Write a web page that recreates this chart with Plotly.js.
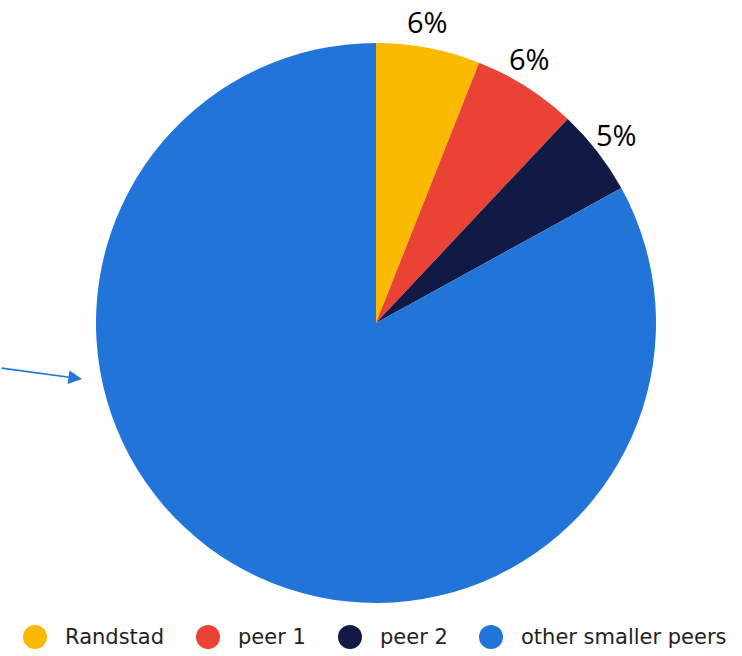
<!DOCTYPE html>
<html>
<head>
<meta charset="utf-8">
<script src="https://cdn.plot.ly/plotly-3.0.1.min.js"></script>
<style>
  html, body { margin: 0; padding: 0; background: #ffffff; }
  #chart { width: 742px; height: 656px; }
</style>
</head>
<body>
<div id="chart"></div>
<script>
// Market share split between Randstad, its two nearest peers and the rest
const labels = ["Randstad", "peer 1", "peer 2", "other smaller peers"];
const shares = [6, 6, 5, 83];
const colors = ["#FBBA00", "#EA4335", "#111A45", "#2175D9"];

// Geometry (px): pie centre and radius, value-label ring
const W = 742, H = 656;
const CX = 376, CY = 323, R = 280;
const LABEL_R = 306;
const labelNudgeDeg = [-1.2, -2.2, -0.3];

// Horizontal positions (px) of each legend swatch
const legendX = [35, 208, 350, 491];
const legendY = 637;

const pie = {
  type: "pie",
  labels: labels,
  values: shares,
  marker: { colors: colors, line: { width: 0 } },
  sort: false,
  direction: "clockwise",
  rotation: 0,
  textinfo: "none",
  hoverinfo: "label+percent",
  showlegend: false,
  domain: { x: [(CX - (W - CX)) / W, 1], y: [(H - CY - R) / H, (H - CY + R) / H] }
};

const shapes = [];
const annotations = [];

// Value labels outside the three small slices, placed along each slice's mid-angle
const total = shares.reduce((a, b) => a + b, 0);
let cum = 0;
shares.forEach((v, i) => {
  const mid = (cum + v / 2) / total * 360;
  cum += v;
  if (i >= 3) return;
  const a = (mid + labelNudgeDeg[i]) * Math.PI / 180;
  const px = CX + LABEL_R * Math.sin(a);
  const py = CY - LABEL_R * Math.cos(a);
  annotations.push({
    xref: "paper", yref: "paper",
    x: px / W, y: (H - py) / H,
    xanchor: "center", yanchor: "middle",
    text: v + "%", showarrow: false,
    font: { family: "Open Sans, Noto Sans, sans-serif", size: 29, color: "#000000" }
  });
});

labels.forEach((name, i) => {
  const cx = legendX[i];
  shapes.push({
    type: "circle", xref: "paper", yref: "paper",
    x0: (cx - 12) / W, x1: (cx + 12) / W,
    y0: (H - legendY - 12) / H, y1: (H - legendY + 12) / H,
    fillcolor: colors[i], line: { width: 0 }
  });
  annotations.push({
    xref: "paper", yref: "paper",
    x: (cx + 28) / W, y: (H - legendY) / H,
    xanchor: "left", yanchor: "middle",
    text: name, showarrow: false,
    font: { family: "DejaVu Sans, sans-serif", size: 21, color: "#1f1f1f" }
  });
});

// Pointer arrow aimed at the large slice
annotations.push({
  xref: "paper", yref: "paper",
  x: 82 / W, y: (H - 379) / H,
  ax: -84, ay: -11,
  text: "", showarrow: true,
  arrowhead: 2, arrowsize: 1.6, arrowwidth: 1.7, arrowcolor: "#2175D9"
});

const layout = {
  width: W, height: H,
  margin: { l: 0, r: 0, t: 0, b: 0 },
  paper_bgcolor: "#ffffff",
  plot_bgcolor: "#ffffff",
  showlegend: false,
  shapes: shapes,
  annotations: annotations
};

Plotly.newPlot("chart", [pie], layout, { displayModeBar: false, staticPlot: true });
</script>
</body>
</html>
